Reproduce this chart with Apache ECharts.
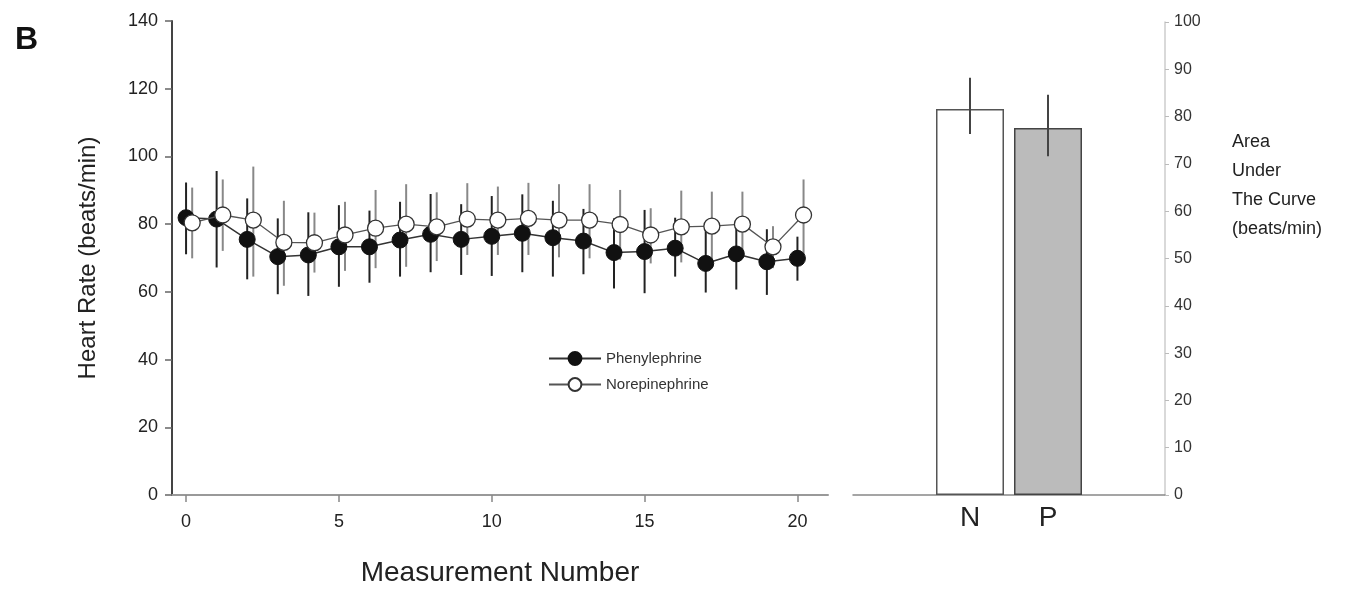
<!DOCTYPE html>
<html>
<head>
<meta charset="utf-8">
<script src="https://cdn.jsdelivr.net/npm/echarts@6/dist/echarts.min.js"></script>
<style>
  html, body { margin: 0; padding: 0; background: #fff; }
  #chart { width: 1371px; height: 591px; }
</style>
</head>
<body>
<div id="chart"></div>
<script>
// measurement numbers 0..20
const measurement = [0, 1, 2, 3, 4, 5, 6, 7, 8, 9, 10, 11, 12, 13, 14, 15, 16, 17, 18, 19, 20];
// norepinephrine points are drawn slightly right of phenylephrine ones
const norShift = 0.2;

const phenylMean = [81.9, 81.5, 75.5, 70.4, 70.9, 73.3, 73.3, 75.3, 77.0, 75.5, 76.4, 77.3, 76.0, 75.0, 71.6, 71.9, 72.9, 68.4, 71.2, 68.9, 69.9];
const phenylHigh = [92.3, 95.7, 87.6, 81.7, 83.5, 85.6, 84.0, 86.6, 88.9, 85.9, 88.3, 88.8, 86.9, 84.5, 81.7, 84.2, 81.9, 79.1, 81.0, 78.5, 76.3];
const phenylLow = [71.1, 67.2, 63.7, 59.3, 58.8, 61.5, 62.7, 64.5, 65.8, 65.0, 64.7, 65.8, 64.5, 65.2, 61.0, 59.6, 64.5, 59.8, 60.7, 59.1, 63.3];

const norMean = [80.4, 82.7, 81.2, 74.6, 74.5, 76.8, 78.8, 80.0, 79.2, 81.5, 81.2, 81.7, 81.2, 81.2, 79.9, 76.8, 79.2, 79.4, 80.0, 73.3, 82.7];
const norHigh = [90.8, 93.2, 97.0, 86.9, 83.4, 86.6, 90.1, 91.8, 89.4, 92.1, 91.1, 92.2, 91.8, 91.8, 90.1, 84.7, 89.9, 89.6, 89.6, 79.4, 93.2];
const norLow = [69.9, 72.1, 64.5, 61.8, 65.7, 66.2, 67.0, 67.4, 69.1, 70.9, 70.9, 70.9, 70.2, 69.9, 69.5, 68.4, 68.7, 68.9, 70.2, 67.0, 70.9];

const xTicks = [0, 5, 10, 15, 20];

// area under the curve panel (empty slots either side of the bars)
const aucCats = ['', 'N', 'P', ''];
const aucMean = [null, 81.6, 77.6, null];
const aucHigh = [null, 88.2, 84.6, null];
const aucLow = [null, 76.3, 71.6, null];

const font = 'Liberation Sans, Arial, sans-serif';
const chart = echarts.init(document.getElementById('chart'));

function errorBar(color, width) {
  return function (params, api) {
    const top = api.coord([api.value(0), api.value(2)]);
    const bottom = api.coord([api.value(0), api.value(1)]);
    return {
      type: 'line',
      shape: { x1: top[0], y1: top[1], x2: bottom[0], y2: bottom[1] },
      style: { stroke: color, lineWidth: width }
    };
  };
}

const phenylPts = measurement.map((m, i) => [m, phenylMean[i]]);
const norPts = measurement.map((m, i) => [m + norShift, norMean[i]]);
const phenylErr = measurement.map((m, i) => [m, phenylLow[i], phenylHigh[i]]);
const norErr = measurement.map((m, i) => [m + norShift, norLow[i], norHigh[i]]);
const aucErr = aucCats.map((c, i) => [i, aucLow[i], aucHigh[i]]).filter(d => d[1] != null);

const option = {
  animation: false,
  textStyle: { fontFamily: font },
  grid: [
    { left: 172, top: 21, width: 656, height: 474, outerBoundsMode: 'none' },
    { left: 853, top: 22, width: 312, height: 473, outerBoundsMode: 'none' }
  ],
  legend: {
    orient: 'vertical',
    left: 543,
    top: 346,
    itemWidth: 52,
    itemHeight: 16,
    itemGap: 11,
    textStyle: { fontSize: 15, color: '#333', fontFamily: font },
    data: ['Phenylephrine', 'Norepinephrine']
  },
  xAxis: [
    {
      type: 'value',
      gridIndex: 0,
      min: -0.46,
      max: 21,
      name: 'Measurement Number',
      nameLocation: 'middle',
      nameGap: 64,
      nameTextStyle: { fontSize: 28, color: '#222', fontFamily: font },
      splitLine: { show: false },
      axisLine: { onZero: false, lineStyle: { color: '#999', width: 2 } },
      axisTick: { customValues: xTicks, length: 7, lineStyle: { color: '#888', width: 1.5 } },
      axisLabel: { customValues: xTicks, fontSize: 18, color: '#222', margin: 18 }
    },
    {
      type: 'category',
      gridIndex: 1,
      data: aucCats,
      axisLine: { lineStyle: { color: '#888', width: 1.5 } },
      axisTick: { show: false },
      axisLabel: { fontSize: 28, color: '#222', margin: 9 }
    }
  ],
  yAxis: [
    {
      type: 'value',
      gridIndex: 0,
      min: 0,
      max: 140,
      interval: 20,
      name: 'Heart Rate (beats/min)',
      nameLocation: 'middle',
      nameGap: 72,
      nameTextStyle: { fontSize: 24, color: '#222', fontFamily: font },
      splitLine: { show: false },
      axisLine: { show: true, onZero: false, lineStyle: { color: '#444', width: 2 } },
      axisTick: { show: true, length: 7, lineStyle: { color: '#666', width: 1.5 } },
      axisLabel: { fontSize: 18, color: '#222', margin: 14 }
    },
    {
      type: 'value',
      gridIndex: 1,
      position: 'right',
      min: 0,
      max: 100,
      interval: 10,
      splitLine: { show: false },
      axisLine: { show: true, onZero: false, lineStyle: { color: '#ccc', width: 1.5 } },
      axisTick: { show: true, length: 4, lineStyle: { color: '#bbb' } },
      axisLabel: { fontSize: 16, color: '#333', margin: 9 }
    }
  ],
  series: [
    {
      type: 'custom',
      xAxisIndex: 0, yAxisIndex: 0,
      renderItem: errorBar('#222', 2),
      data: phenylErr,
      z: 1
    },
    {
      type: 'custom',
      xAxisIndex: 0, yAxisIndex: 0,
      renderItem: errorBar('#888', 2),
      data: norErr,
      z: 1
    },
    {
      name: 'Phenylephrine',
      type: 'line',
      xAxisIndex: 0, yAxisIndex: 0,
      data: phenylPts,
      symbol: 'circle',
      symbolSize: 16,
      lineStyle: { color: '#333', width: 1.5 },
      itemStyle: { color: '#111', borderColor: '#111', borderWidth: 1 },
      z: 3
    },
    {
      name: 'Norepinephrine',
      type: 'line',
      xAxisIndex: 0, yAxisIndex: 0,
      data: norPts,
      symbol: 'circle',
      symbolSize: 16,
      lineStyle: { color: '#555', width: 1.3 },
      itemStyle: { color: '#fff', borderColor: '#333', borderWidth: 1.3 },
      z: 4
    },
    {
      type: 'bar',
      xAxisIndex: 1, yAxisIndex: 1,
      barWidth: 68,
      data: aucMean.map((v, i) => ({
        value: v,
        itemStyle: i === 1
          ? { color: '#fff', borderColor: '#555', borderWidth: 1.5 }
          : { color: '#bbb', borderColor: '#444', borderWidth: 1.5 }
      })),
      z: 2
    },
    {
      type: 'custom',
      xAxisIndex: 1, yAxisIndex: 1,
      renderItem: errorBar('#444', 2),
      data: aucErr,
      z: 3
    }
  ],
  graphic: [
    {
      type: 'text', left: 15, top: 24,
      style: { text: 'B', fontSize: 32, fontWeight: 'bold', fill: '#111', fontFamily: font }
    },
    {
      type: 'text', left: 1232, top: 128,
      style: {
        text: 'Area\nUnder\nThe Curve\n(beats/min)',
        fontSize: 18, lineHeight: 29, fill: '#222', fontFamily: font
      }
    }
  ]
};

chart.setOption(option);
</script>
</body>
</html>
